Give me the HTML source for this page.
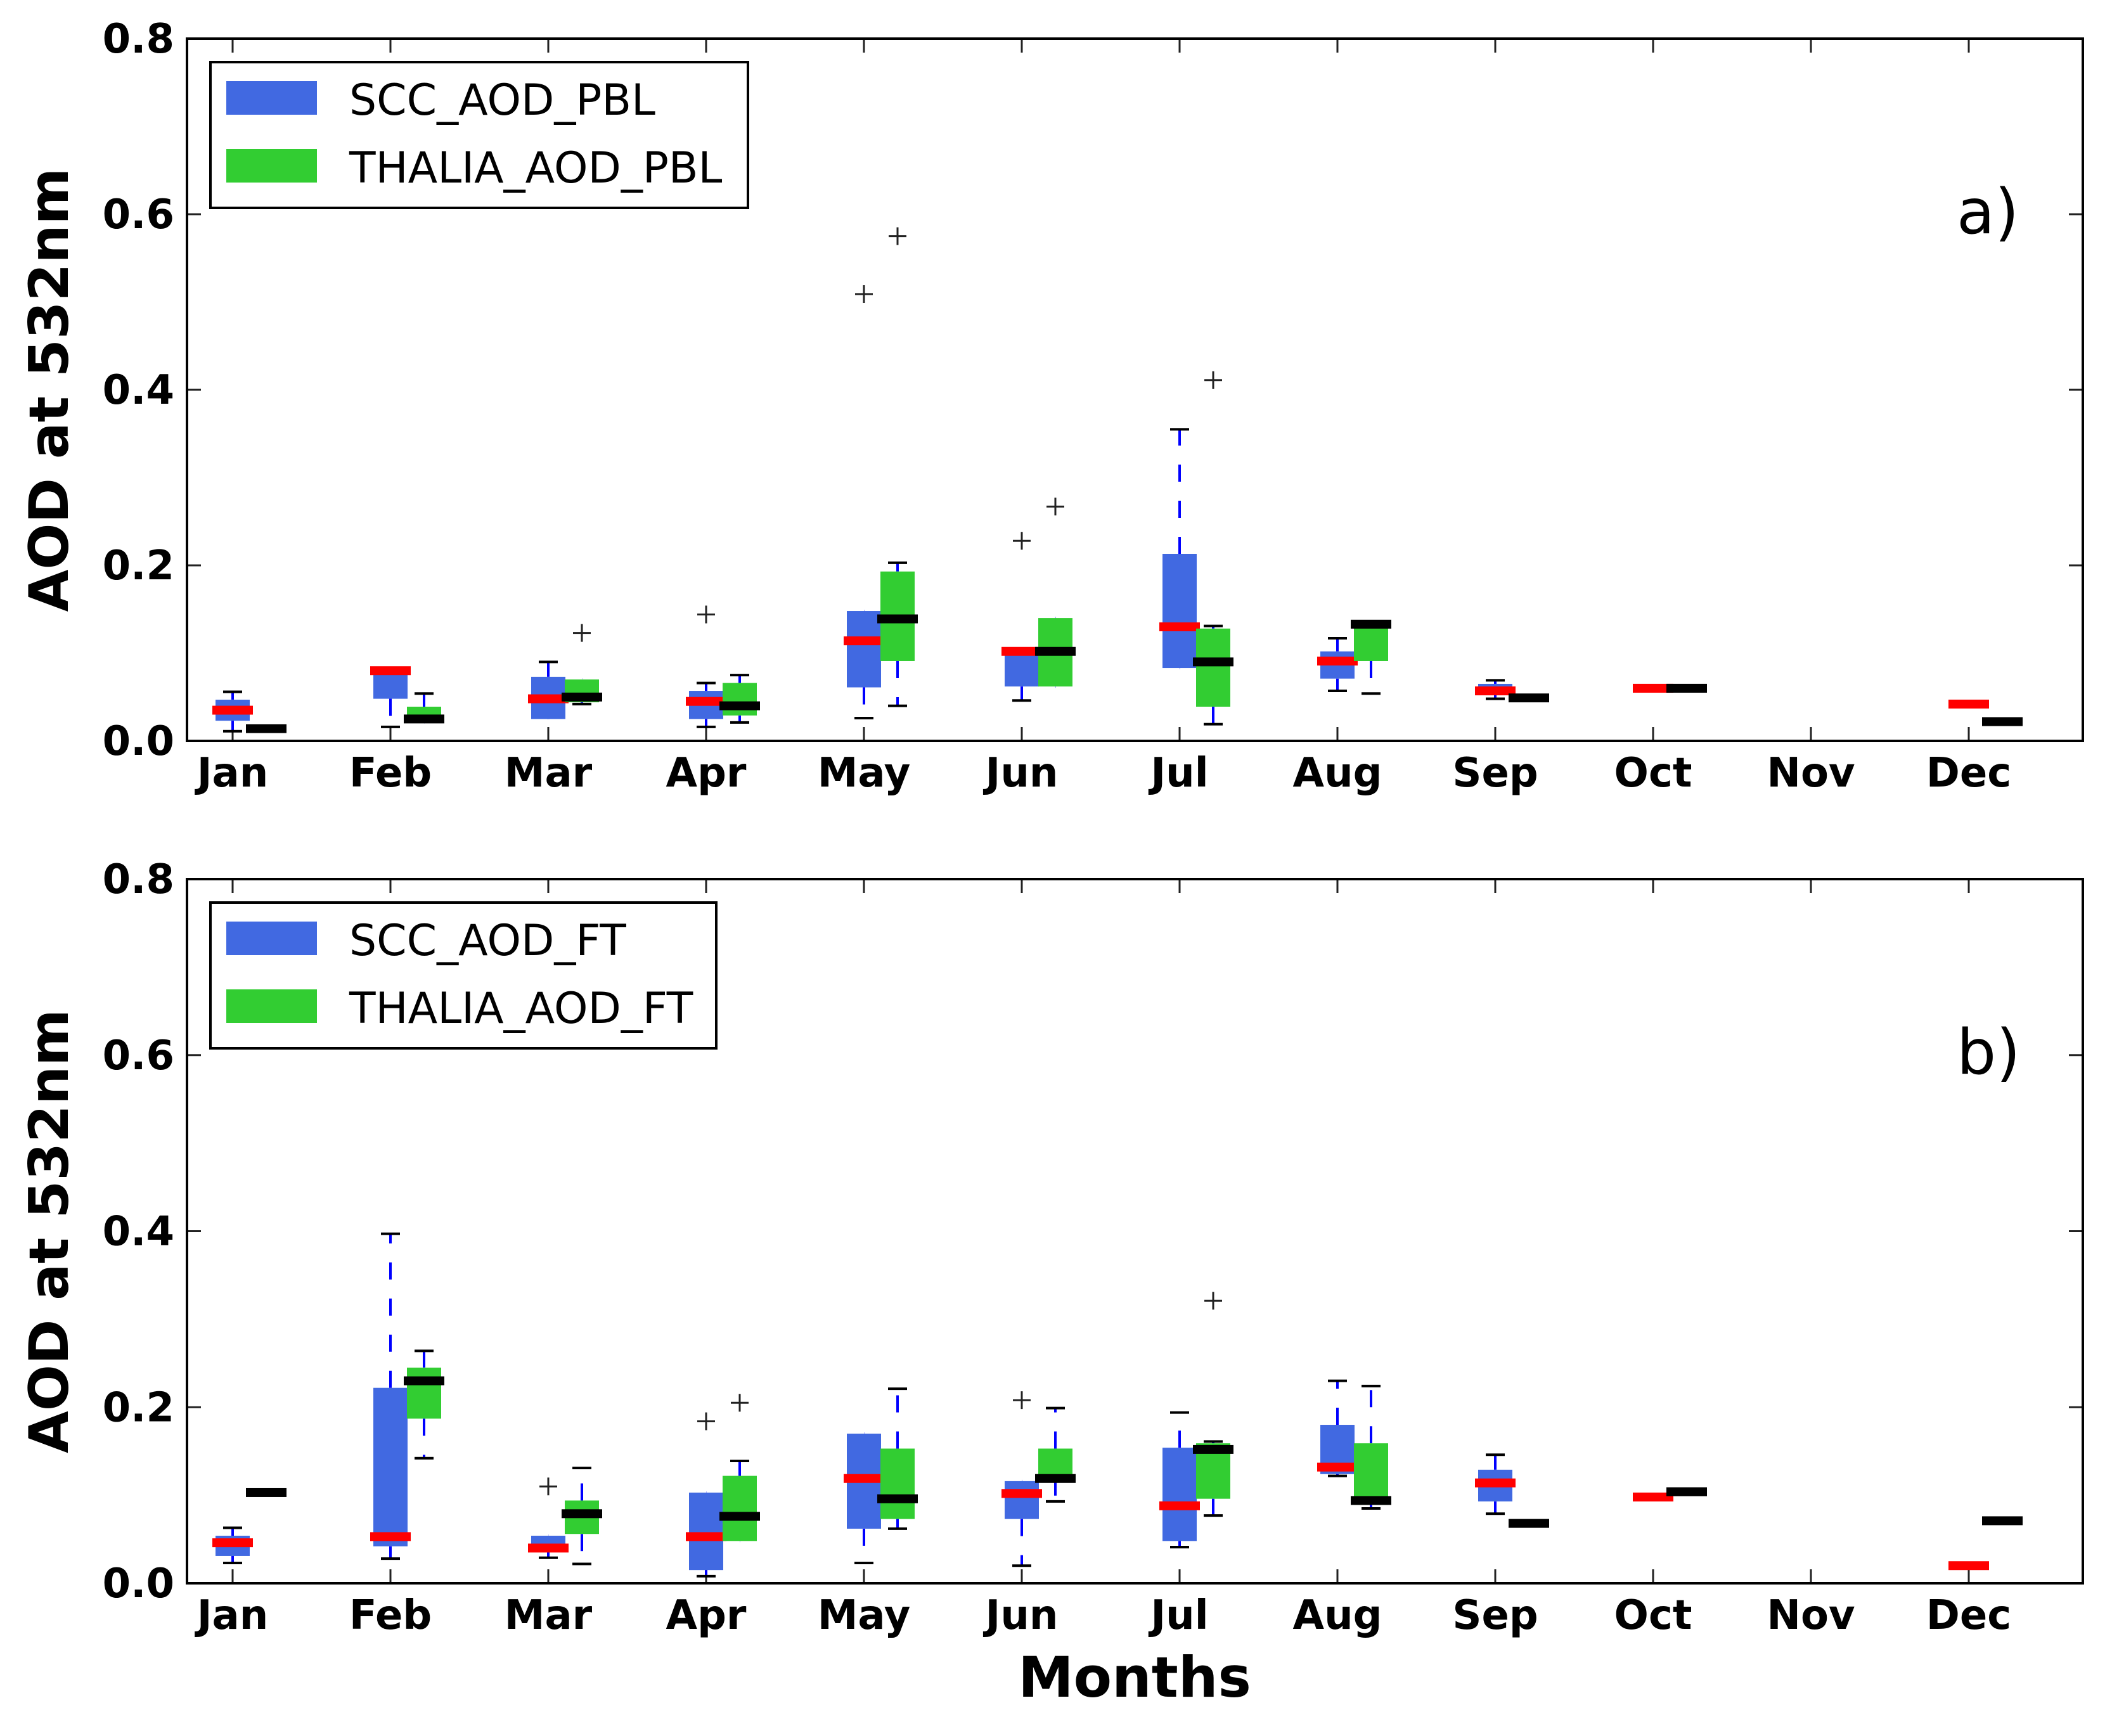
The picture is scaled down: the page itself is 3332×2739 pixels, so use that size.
<!DOCTYPE html>
<html><head><meta charset="utf-8"><style>
html,body{margin:0;padding:0;background:#fff;}
svg{display:block;}
text{font-family:"DejaVu Sans","Liberation Sans",sans-serif;}
</style></head><body>
<svg id="chart" width="3332" height="2739" viewBox="0 0 3332 2739" xmlns="http://www.w3.org/2000/svg">
<rect x="0" y="0" width="3332" height="2739" fill="#fff"/>
</svg>
<script>
const months = ["Jan","Feb","Mar","Apr","May","Jun","Jul","Aug","Sep","Oct","Nov","Dec"];
const yTicks = [0.0,0.2,0.4,0.6,0.8];
const yTickLabels = ["0.0","0.2","0.4","0.6","0.8"];
// each entry: [whiskerLow, q1, median, q3, whiskerHigh] or null
const sccPBL = [
 [0.011,0.023,0.035,0.047,0.056],[0.016,0.048,0.080,0.080,0.080],[0.026,0.025,0.048,0.073,0.090],
 [0.016,0.025,0.045,0.057,0.066],[0.026,0.061,0.114,0.148,0.148],[0.046,0.062,0.102,0.102,0.102],
 [0.083,0.083,0.130,0.213,0.355],[0.057,0.071,0.091,0.102,0.117],[0.048,0.052,0.057,0.065,0.069],
 [0.060,0.060,0.060,0.060,0.060],null,[0.042,0.042,0.042,0.042,0.042]];
const thaliaPBL = [
 [0.014,0.014,0.014,0.014,0.014],[0.021,0.021,0.025,0.039,0.054],[0.042,0.044,0.050,0.070,0.070],
 [0.021,0.029,0.040,0.066,0.075],[0.040,0.091,0.139,0.193,0.203],[0.062,0.062,0.102,0.140,0.140],
 [0.019,0.039,0.090,0.128,0.131],[0.054,0.091,0.133,0.133,0.133],[0.048,0.048,0.049,0.052,0.052],
 [0.060,0.060,0.060,0.060,0.060],null,[0.022,0.022,0.022,0.022,0.022]];
const sccPBLOut = [[],[],[],[0.144],[0.509],[0.228],[],[],[],[],[],[]];
const thaliaPBLOut = [[],[],[0.123],[],[0.575],[0.267],[0.411],[],[],[],[],[]];
const sccFT = [
 [0.023,0.031,0.046,0.054,0.063],[0.028,0.042,0.053,0.222,0.397],[0.029,0.036,0.040,0.054,0.054],
 [0.008,0.015,0.053,0.103,0.103],[0.023,0.062,0.119,0.170,0.170],[0.020,0.073,0.102,0.116,0.116],
 [0.041,0.048,0.088,0.154,0.194],[0.122,0.124,0.132,0.180,0.230],[0.079,0.093,0.114,0.129,0.146],
 [0.098,0.098,0.098,0.098,0.098],null,[0.020,0.020,0.020,0.020,0.020]];
const thaliaFT = [
 [0.103,0.103,0.103,0.103,0.103],[0.142,0.187,0.230,0.245,0.264],[0.022,0.056,0.079,0.094,0.131],
 [0.048,0.048,0.076,0.122,0.139],[0.062,0.073,0.096,0.153,0.221],[0.093,0.119,0.119,0.153,0.199],
 [0.077,0.096,0.152,0.159,0.161],[0.085,0.089,0.094,0.159,0.224],[0.068,0.068,0.068,0.068,0.068],
 [0.104,0.104,0.104,0.104,0.104],null,[0.071,0.071,0.071,0.071,0.071]];
const sccFTOut = [[],[],[0.110],[0.184],[],[0.208],[],[],[],[],[],[]];
const thaliaFTOut = [[],[],[],[0.205],[],[],[0.321],[],[],[],[],[]];

const NS="http://www.w3.org/2000/svg";
const svg=document.getElementById('chart');
function el(tag,attrs,parent){const e=document.createElementNS(NS,tag);for(const k in attrs)e.setAttribute(k,attrs[k]);(parent||svg).appendChild(e);return e;}

const X0=295,X1=3286;
function xScale(i){return 367+249*i;}

function drawPanel(p){
  const g=el('g',{});
  
  
  const yS=v=>p.y0-(v/0.8)*(p.y0-p.y1);
  yTicks.forEach((t,k)=>{
    const y=yS(t);
    const tx=el('text',{x:275,y:y+22,'text-anchor':'end','font-size':64,'font-weight':'bold',fill:'#000'},g);
    tx.textContent=yTickLabels[k];
    
    
    if(k>0&&k<4){
      el('line',{x1:X0,x2:X0+22,y1:y,y2:y,stroke:'#222','stroke-width':3},g);
      el('line',{x1:X1,x2:X1-22,y1:y,y2:y,stroke:'#222','stroke-width':3},g);
    }
  });
  months.forEach((m,i)=>{
    const x=xScale(i);
    el('line',{x1:x,x2:x,y1:p.y0,y2:p.y0-22,stroke:'#222','stroke-width':3},g);
    el('line',{x1:x,x2:x,y1:p.y1,y2:p.y1+22,stroke:'#222','stroke-width':3},g);
    const tx=el('text',{x:x,y:p.y0+72,'text-anchor':'middle','font-size':64,'font-weight':'bold',fill:'#000'},g);
    tx.textContent=m;
    
    
  });
  const yt=el('text',{x:0,y:0,'text-anchor':'middle','font-size':86,'font-weight':'bold',fill:'#000',transform:`translate(107,${(p.y0+p.y1)/2}) rotate(-90)`},g);
  yt.textContent='AOD at 532nm';
  
  
  function series(data,outs,color,medColor,off,sname){
    data.forEach((d,i)=>{
      if(!d)return;
      const cx=xScale(i)+off;
      const bg=el('g',{},g);
      
      
      const [lo,q1,md,q3,hi]=d;
      el('line',{x1:cx,x2:cx,y1:yS(q3),y2:yS(hi),stroke:'#0000ff','stroke-width':4,'stroke-dasharray':'27,30'},bg);
      el('line',{x1:cx,x2:cx,y1:yS(q1),y2:yS(lo),stroke:'#0000ff','stroke-width':4,'stroke-dasharray':'27,30'},bg);
      if(hi>q3)el('line',{x1:cx-15,x2:cx+15,y1:yS(hi),y2:yS(hi),stroke:'#000','stroke-width':4},bg);
      if(lo<q1)el('line',{x1:cx-15,x2:cx+15,y1:yS(lo),y2:yS(lo),stroke:'#000','stroke-width':4},bg);
      el('rect',{x:cx-27,y:yS(q3),width:54,height:Math.max(0,yS(q1)-yS(q3)),fill:color},bg);
      el('rect',{x:cx-32,y:yS(md)-7,width:64,height:14,fill:medColor},bg);
      outs[i].forEach(o=>{
        const oy=yS(o);
        const pl=el('path',{d:`M${cx-14},${oy}H${cx+14}M${cx},${oy-14}V${oy+14}`,stroke:'#222','stroke-width':3,fill:'none'},bg);
        
        
      });
    });
  }
  series(p.a,p.aOut,'#4169e1','#ff0000',0,'scc');
  series(p.b,p.bOut,'#32cd32','#000000',53,'thalia');
  el('rect',{x:X0,y:p.y1,width:X1-X0,height:p.y0-p.y1,fill:'none',stroke:'#000','stroke-width':4},g);
  const lg=el('g',{},g);
  
  
  const ly=p.y1+37;
  el('rect',{x:332,y:ly,width:p.lw,height:230,fill:'#fff',stroke:'#000','stroke-width':4},lg);
  [[p.la,'#4169e1',30],[p.lb,'#32cd32',137]].forEach(([lab,c,dy])=>{
    const e=el('g',{},lg);
    
    
    el('rect',{x:357,y:ly+dy,width:143,height:53,fill:c},e);
    const t=el('text',{x:551,y:ly+dy+53,'font-size':68,fill:'#000'},e);
    t.textContent=lab;
  });
  const pt=el('text',{x:3087,y:p.y1+307,'font-size':98,fill:'#000'},g);
  pt.textContent=p.tag;
  
  
}
drawPanel({name:'panel-a-pbl',y0:1169,y1:61,a:sccPBL,b:thaliaPBL,aOut:sccPBLOut,bOut:thaliaPBLOut,la:'SCC_AOD_PBL',lb:'THALIA_AOD_PBL',lw:848,tag:'a)'});
drawPanel({name:'panel-b-ft',y0:2498,y1:1387,a:sccFT,b:thaliaFT,aOut:sccFTOut,bOut:thaliaFTOut,la:'SCC_AOD_FT',lb:'THALIA_AOD_FT',lw:798,tag:'b)'});
const xt=el('text',{x:1790,y:2677,'text-anchor':'middle','font-size':88,'font-weight':'bold',fill:'#000'});
xt.textContent='Months';


</script>
</body></html>
